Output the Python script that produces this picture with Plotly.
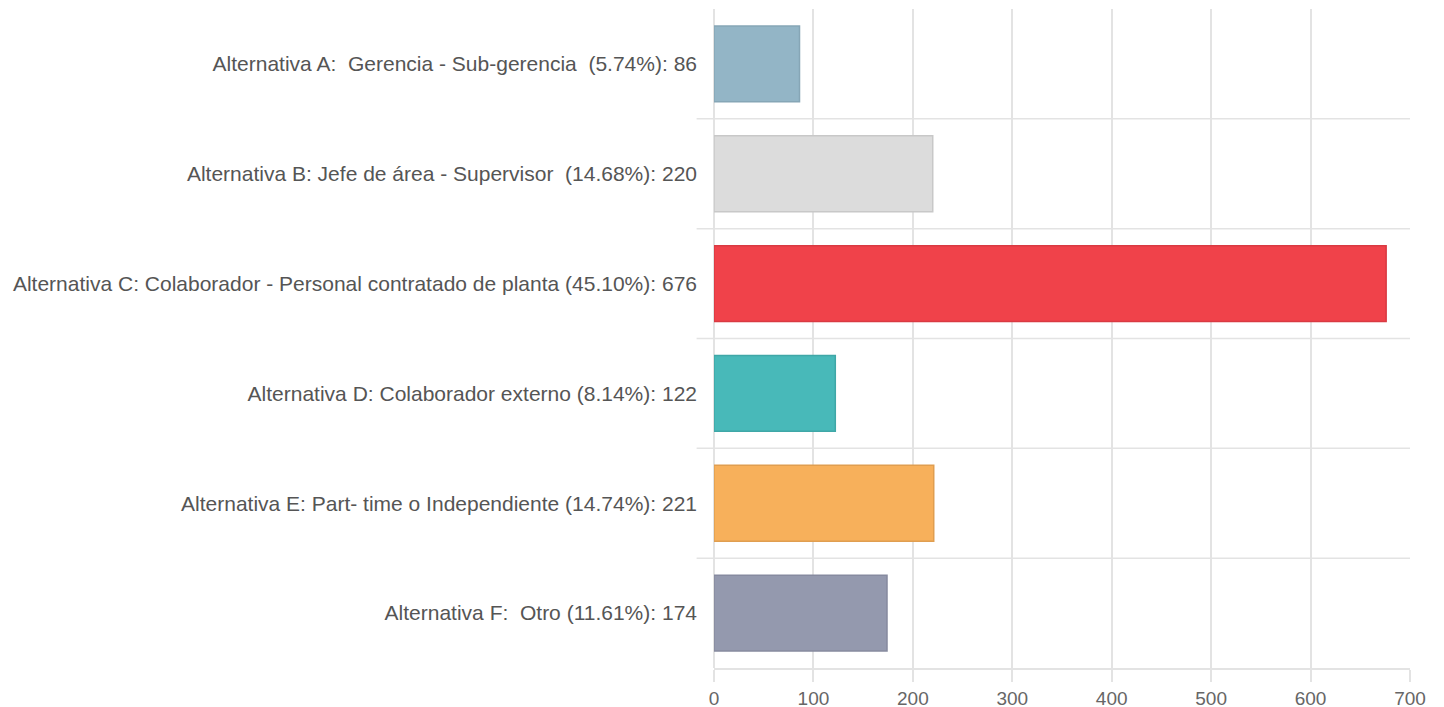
import plotly.graph_objects as go

categories = [
    "Alternativa A:\u00a0 Gerencia - Sub-gerencia \u00a0(5.74%): 86",
    "Alternativa B: Jefe de área - Supervisor \u00a0(14.68%): 220",
    "Alternativa C: Colaborador - Personal contratado de planta (45.10%): 676",
    "Alternativa D: Colaborador externo (8.14%): 122",
    "Alternativa E: Part- time o Independiente (14.74%): 221",
    "Alternativa F:\u00a0 Otro (11.61%): 174",
]
values = [86, 220, 676, 122, 221, 174]
fill_colors = ["#93b5c6", "#dcdcdc", "#f0424a", "#48b9b9", "#f7b05b", "#9499ae"]
line_colors = ["#86a6b6", "#c8c8c8", "#d93a42", "#3fa7a7", "#e09e50", "#868a9f"]
x_ticks = [0, 100, 200, 300, 400, 500, 600, 700]

grid = "#e3e3e3"
fig = go.Figure()
fig.add_trace(go.Bar(
    y=categories, x=values, orientation="h",
    marker=dict(color=fill_colors, line=dict(color=line_colors, width=1.5)),
    width=0.69, hoverinfo="x+y",
))

# horizontal separators between categories
for i in range(len(categories) - 1):
    fig.add_shape(type="line", xref="paper", yref="y", x0=-0.025, x1=1,
                  y0=i + 0.5, y1=i + 0.5, line=dict(color=grid, width=1.5), layer="below")

fig.update_layout(
    width=1444, height=707,
    margin=dict(l=706, r=42, t=1, b=47),
    paper_bgcolor="white", plot_bgcolor="white",
    font=dict(family="Liberation Sans, Arial, sans-serif", size=21, color="#5a5a5a"),
    showlegend=False,
    xaxis=dict(range=[0, 700], tickvals=x_ticks, showgrid=True, gridcolor=grid, gridwidth=1.5,
               zeroline=True, zerolinecolor=grid, zerolinewidth=1.5,
               showline=True, linecolor=grid, linewidth=1.5,
               ticks="outside", ticklen=12, tickcolor=grid, tickwidth=1.5,
               tickfont=dict(size=19, color="#666666")),
    yaxis=dict(type="category", categoryorder="array", categoryarray=categories,
               autorange="reversed", showgrid=False, ticks="", ticklabelstandoff=16,
               tickfont=dict(size=21, color="#555555")),
)
fig.write_html("out.html")
